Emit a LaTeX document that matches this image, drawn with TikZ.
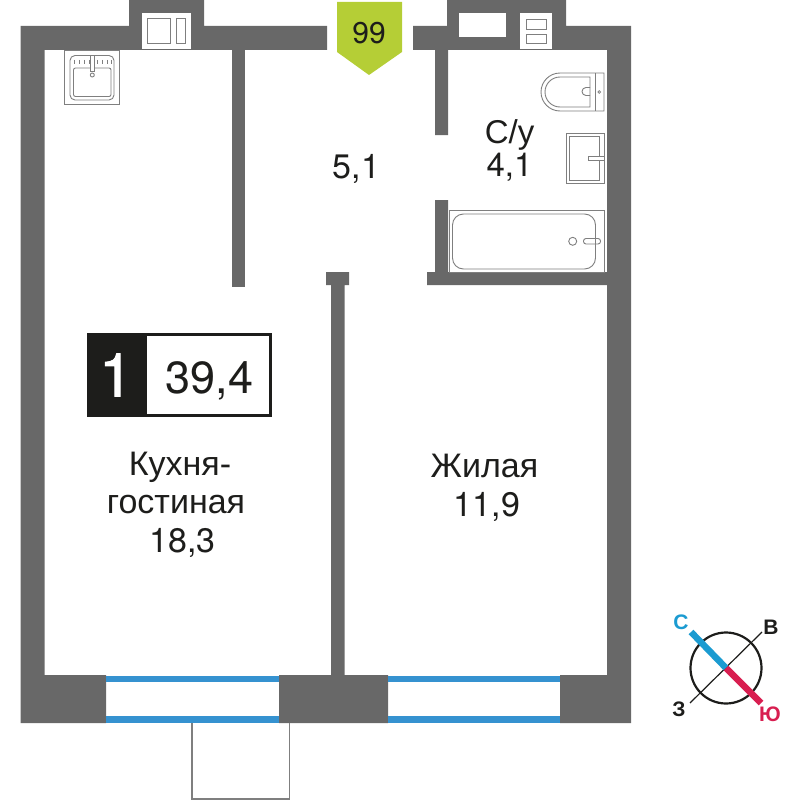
\documentclass[tikz,border=0pt]{standalone}
\usepackage{fontspec}
\setmainfont{Liberation Sans}
\newfontfamily\heros{TeX Gyre Heros}
\newfontfamily\herosfat[FakeBold=1.6]{TeX Gyre Heros}
\definecolor{wallc}{HTML}{686868}
\definecolor{linec}{HTML}{7F7F7F}
\definecolor{blu}{HTML}{3592D0}
\definecolor{badge}{HTML}{B5CE36}
\definecolor{ink}{HTML}{1D1D1B}
\definecolor{cblue}{HTML}{1B9BD1}
\definecolor{cred}{HTML}{D81E50}
\tikzset{
  wall/.style={fill=wallc,draw=none},
  fixture/.style={draw=linec,line width=0.9pt,fill=white},
  fixthin/.style={draw=linec,line width=0.9pt},
  win/.style={fill=blu,draw=none},
  lbl/.style={text=ink,inner sep=0pt,align=center,font=\fontsize{34}{38.5}\selectfont},
  cmp/.style={inner sep=0pt,font=\bfseries\fontsize{21}{21}\selectfont}
}
\begin{document}
\begin{tikzpicture}[x=1pt,y=-1pt]
\useasboundingbox (0,0) rectangle (800,800);
% walls
\fill[wall] (20.5,26) -- (129,26) -- (129,0) -- (204,0) -- (204,26) -- (327,26) -- (327,50) -- (44.7,50) -- (44.7,675) -- (106,675) -- (106,723) -- (20.5,723) -- cycle;
\fill[wall] (413,26) -- (447,26) -- (447,0) -- (566,0) -- (566,26) -- (631,26) -- (631,723) -- (560,723) -- (560,675) -- (607,675) -- (607,285) -- (427,285) -- (427,272) -- (435,272) -- (435,200) -- (448,200) -- (448,272) -- (607,272) -- (607,50) -- (448,50) -- (448,135) -- (435,135) -- (435,50) -- (413,50) -- cycle;
\fill[wall] (232,50) rectangle (245,287);
\fill[wall] (326,272) -- (349,272) -- (349,285) -- (344.5,285) -- (344.5,675) -- (388,675) -- (388,723) -- (279,723) -- (279,675) -- (331,675) -- (331,285) -- (326,285) -- cycle;
% niches
\fill[white] (142,13) rectangle (191,49);
\draw[fixthin] (147.5,18.5) rectangle (170,43);
\draw[fixthin] (176,18.5) rectangle (185.5,43);
\fill[white] (459,13) rectangle (506,37);
\fill[white] (520,13) rectangle (552,49);
\draw[fixthin] (526,19.5) rectangle (546.5,29);
\draw[fixthin] (526,34.5) rectangle (546.5,43.5);
% windows
\fill[win] (106,676) rectangle (279,682);
\fill[win] (106,716) rectangle (279,723);
\fill[win] (388,676) rectangle (560,682);
\fill[win] (388,716) rectangle (560,723);
% balcony
\draw[draw=linec,line width=1.3pt] (192,723) -- (192,799) -- (289.5,799) -- (289.5,723);
% kitchen sink
\draw[fixture] (64.5,50.5) rectangle (119,104);
\draw[fixthin,rounded corners=5pt] (70,55.5) rectangle (114,100);
\draw[fixthin,rounded corners=2pt] (73.5,68) rectangle (111,96.5);
\foreach \tx in {74,79,84,89,97,102,107,111}{\draw[draw=linec,line width=0.8pt] (\tx,60) -- (\tx,64);}
\draw[fixture,line width=0.8pt] (90.5,55.5) rectangle (94,71);
\draw[fixthin] (92.3,75) circle (2);
% toilet
\draw[fixture] (604,73) -- (560,73) arc[start angle=270,end angle=90,radius=19] -- (604,111) -- cycle;
\draw[fixthin] (595.5,73) -- (595.5,111);
\draw[fixthin] (590,77) -- (560,77) arc[start angle=270,end angle=90,radius=15] -- (590,107) -- cycle;
\draw[fixthin] (590,87.5) -- (586,87.5) arc[start angle=270,end angle=90,radius=4] -- (590,95.5);
\draw[draw=linec,line width=0.7pt] (599.3,92) circle (1.4);
% bathroom sink
\draw[fixture] (566.5,133) rectangle (604,183);
\draw[fixthin] (569.5,136.5) rectangle (599.5,180);
\draw[fixture] (604,156) -- (588.5,156) -- (588.5,160.5) -- (604,160.5);
% bath
\draw[fixture] (449,210.5) rectangle (604,272);
\draw[fixthin,rounded corners=11pt] (452.5,214) rectangle (595.5,269);
\draw[fixthin] (572.7,241.3) circle (4);
\draw[fixthin,rounded corners=2.5pt] (583.5,238.5) rectangle (600.5,244);
% summary
\fill[ink] (87,333) rectangle (147,417);
\draw[ink,line width=3pt] (147,334.5) -- (270.5,334.5) -- (270.5,415.5) -- (147,415.5);
\node[inner sep=0pt,text=white,font=\herosfat\fontsize{60}{60}\selectfont] (num) at (116,375) {1};
\node[lbl,font=\heros\fontsize{45}{45}\selectfont] (area) at (209.5,381) {39,4};
% badge
\fill[badge] (337,2) -- (402,2) -- (402,52) -- (369,75) -- (337,52) -- cycle;
\node[lbl,font=\heros\fontsize{30}{30}\selectfont] (ent) at (369,33) {99};
% labels
\node[lbl] (hall) at (356.5,169) {{\heros 5,1}};
\node[lbl,font=\fontsize{33}{33}\selectfont] (bath) at (509.5,150) {С/у\\{\heros 4,1}};
\node[lbl] (kit) at (176,504.5) {\hspace*{8pt}Кухня-\\гостиная\\\hspace*{13pt}{\heros 18,3}};
\node[lbl] (liv) at (484.5,488) {Жилая\\\hspace*{5pt}{\heros 11,9}};
% compass
\coordinate (cc) at (726,668);
\coordinate (cw) at (690,703);
\coordinate (ce) at (762,632);
\coordinate (cn) at (691,632);
\coordinate (cs) at (761,703);
\draw[ink,line width=2.2pt] (cc) circle (35.5);
\draw[ink,line width=1.2pt] (cw) -- (ce);
\draw[cblue,line width=6.5pt] (cn) -- (cc);
\draw[cred,line width=6.5pt] (cc) -- (cs);
\node[cmp,text=cblue] (ln) at (681,622) {С};
\node[cmp,text=ink] (le) at (771,627) {В};
\node[cmp,text=ink] (lw) at (679,709) {З};
\node[cmp,text=cred] (ls) at (770,714) {Ю};
\end{tikzpicture}
\end{document}
